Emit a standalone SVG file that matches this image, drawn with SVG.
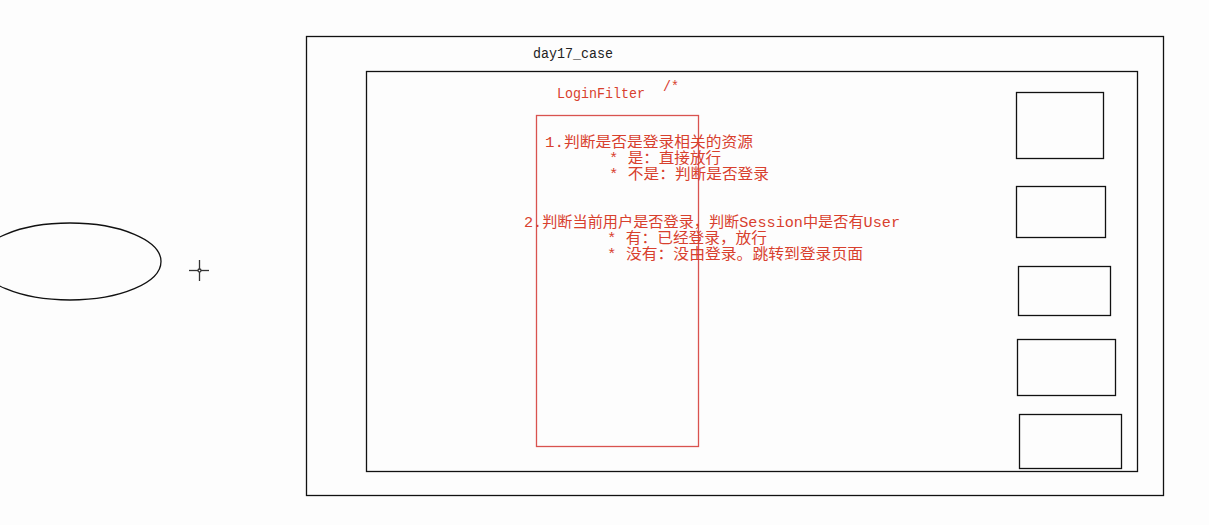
<svg xmlns="http://www.w3.org/2000/svg" width="1209" height="525" viewBox="0 0 1209 525">
<style>
.box{fill:none;stroke:#111;stroke-width:1.3}
.rt{font-family:"Liberation Mono","Noto Sans CJK SC",monospace;font-size:15px;fill:#d8402e}
.bt{font-family:"Liberation Mono","Noto Sans CJK SC",monospace;font-size:14px;fill:#222}
</style>
<rect width="1209" height="525" fill="#fdfdfd"/>
<g id="outer"><rect class="box" x="306.5" y="36.5" width="857" height="459"/><text class="bt" x="533" y="58" textLength="80" lengthAdjust="spacingAndGlyphs">day17_case</text></g>
<g id="inner"><rect class="box" x="366.5" y="71.5" width="771" height="400"/></g>
<g id="ellipse"><ellipse cx="70" cy="261.5" rx="91" ry="38.5" fill="none" stroke="#111" stroke-width="1.3"/></g>
<g id="cursor" stroke="#333" stroke-width="1.3" fill="none"><line x1="189" y1="270.5" x2="209" y2="270.5"/><line x1="199.5" y1="260" x2="199.5" y2="281"/><circle cx="199.5" cy="270.5" r="1.5" fill="#fff"/></g>
<g id="loginfilter">
<rect x="536.5" y="115.5" width="162" height="331" fill="none" stroke="#d9534f" stroke-width="1.3"/>
<text class="rt" x="557" y="98" textLength="88" lengthAdjust="spacingAndGlyphs">LoginFilter</text>
<text class="rt" x="663" y="91" textLength="16" lengthAdjust="spacingAndGlyphs">/*</text>
<text class="rt" x="545" y="147" textLength="208" lengthAdjust="spacingAndGlyphs">1.判断是否是登录相关的资源</text>
<text class="rt" x="609" y="163" textLength="112" lengthAdjust="spacingAndGlyphs">* 是：直接放行</text>
<text class="rt" x="609" y="179" textLength="160" lengthAdjust="spacingAndGlyphs">* 不是：判断是否登录</text>
<text class="rt" x="524" y="227" textLength="376" lengthAdjust="spacingAndGlyphs">2.判断当前用户是否登录，判断Session中是否有User</text>
<text class="rt" x="607" y="243" textLength="160" lengthAdjust="spacingAndGlyphs">* 有：已经登录，放行</text>
<text class="rt" x="607" y="259" textLength="256" lengthAdjust="spacingAndGlyphs">* 没有：没由登录。跳转到登录页面</text>
</g>
<g id="res1"><rect class="box" x="1016.5" y="92.5" width="87" height="66"/></g>
<g id="res2"><rect class="box" x="1016.5" y="186.5" width="89" height="51"/></g>
<g id="res3"><rect class="box" x="1018.5" y="266.5" width="92" height="49"/></g>
<g id="res4"><rect class="box" x="1017.5" y="339.5" width="98" height="56"/></g>
<g id="res5"><rect class="box" x="1019.5" y="414.5" width="102" height="54"/></g>
<g id="connectors"></g>
</svg>
